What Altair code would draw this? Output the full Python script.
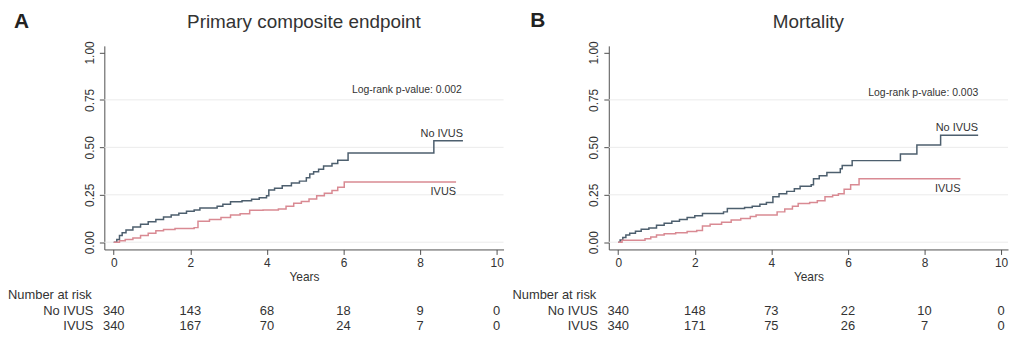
import altair as alt
import pandas as pd

FONT = "Liberation Sans"
TXT = "#333333"
AX = "#505050"
C_NO = "#4d5f6e"
C_IV = "#d98a93"

x_ticks = [0, 2, 4, 6, 8, 10]
y_ticks = [0.0, 0.25, 0.5, 0.75, 1.0]
grid_vals = [0.0, 0.25, 0.5, 0.75]
risk_times = [0, 2, 4, 6, 8, 10]
groups = ["No IVUS", "IVUS"]

titles = ["Primary composite endpoint", "Mortality"]
letters = ["A", "B"]
pvalues = ["Log-rank p-value: 0.002", "Log-rank p-value: 0.003"]

# Panel A - primary composite endpoint (cumulative incidence)
a_no_t = [0, 0.08, 0.15, 0.22, 0.32, 0.5, 0.7, 0.9, 1.1, 1.3, 1.5, 1.7, 1.9, 2.1, 2.25,
          2.7, 2.85, 3.05, 3.35, 3.6, 3.8, 3.99, 4.05, 4.2, 4.4, 4.64, 4.85, 5.03, 5.12,
          5.22, 5.35, 5.48, 5.7, 5.85, 6.12, 8.36, 9.12]
a_no_v = [0, 0.015, 0.035, 0.05, 0.065, 0.08, 0.095, 0.108, 0.12, 0.133, 0.143, 0.153,
          0.163, 0.17, 0.18, 0.19, 0.2, 0.213, 0.218, 0.226, 0.235, 0.245, 0.275, 0.285,
          0.297, 0.312, 0.322, 0.34, 0.36, 0.372, 0.385, 0.402, 0.415, 0.432, 0.47, 0.535,
          0.535]
a_iv_t = [0, 0.15, 0.3, 0.5, 0.7, 0.9, 1.1, 1.3, 1.6, 2.1, 2.2, 2.5, 2.8, 3.05, 3.3, 3.55,
          3.9, 4.3, 4.5, 4.7, 4.9, 5.1, 5.3, 5.5, 5.7, 5.85, 6.02, 8.94]
a_iv_v = [0, 0.008, 0.015, 0.022, 0.035, 0.048, 0.06, 0.067, 0.072, 0.077, 0.11, 0.12,
          0.13, 0.143, 0.15, 0.168, 0.17, 0.175, 0.19, 0.205, 0.215, 0.228, 0.245, 0.258,
          0.272, 0.29, 0.318, 0.318]

# Panel B - mortality
b_no_t = [0, 0.05, 0.12, 0.2, 0.3, 0.45, 0.6, 0.8, 1.0, 1.2, 1.4, 1.6, 1.8, 2.0, 2.2,
          2.75, 2.85, 3.3, 3.5, 3.7, 3.87, 4.04, 4.2, 4.4, 4.6, 4.75, 5.04, 5.1, 5.25,
          5.45, 5.8, 5.85, 6.11, 7.37, 7.8, 8.42, 9.4]
b_no_v = [0, 0.012, 0.025, 0.038, 0.048, 0.058, 0.068, 0.075, 0.09, 0.1, 0.11, 0.12,
          0.13, 0.14, 0.152, 0.16, 0.178, 0.183, 0.19, 0.2, 0.21, 0.24, 0.255, 0.268,
          0.282, 0.295, 0.303, 0.334, 0.35, 0.368, 0.387, 0.404, 0.43, 0.465, 0.512,
          0.564, 0.564]
b_iv_t = [0, 0.1, 0.7, 0.85, 1.0, 1.2, 1.5, 1.8, 2.05, 2.2, 2.4, 2.7, 2.95, 3.2, 3.45,
          3.6, 4.15, 4.35, 4.55, 4.7, 5.0, 5.2, 5.4, 5.6, 5.75, 5.9, 6.07, 6.29, 8.94]
b_iv_v = [0, 0.01, 0.018, 0.028, 0.038, 0.045, 0.05, 0.056, 0.062, 0.085, 0.095, 0.105,
          0.117, 0.125, 0.135, 0.143, 0.16, 0.175, 0.19, 0.204, 0.21, 0.218, 0.24, 0.248,
          0.256, 0.279, 0.303, 0.334, 0.334]

risk_a_no = [340, 143, 68, 18, 9, 0]
risk_a_iv = [340, 167, 70, 24, 7, 0]
risk_b_no = [340, 148, 73, 22, 10, 0]
risk_b_iv = [340, 171, 75, 26, 7, 0]

W, H = 402, 205

XS = alt.Scale(domain=[-0.246, 10.18], nice=False, zero=False)
YS = alt.Scale(domain=[-0.038, 1.0345], nice=False, zero=False)
XAX = alt.Axis(values=x_ticks, grid=False, tickSize=5, labelPadding=3, titlePadding=3,
               labelFontSize=12, titleFontSize=12, titleFontWeight="normal",
               domainColor=AX, tickColor=AX, labelColor=TXT, titleColor=TXT,
               labelFont=FONT, titleFont=FONT)
YAX = alt.Axis(values=y_ticks, format=".2f", grid=False, labelAngle=270,
               labelAlign="center", labelBaseline="bottom", tickSize=5, labelPadding=3,
               labelFontSize=12, domainColor=AX, tickColor=AX, labelColor=TXT,
               labelFont=FONT)


def X():
    return alt.X("t:Q", scale=XS, axis=XAX, title="Years")


def Y():
    return alt.Y("v:Q", scale=YS, axis=YAX, title="")


def txt(**kw):
    base = dict(color=TXT, font=FONT)
    base.update(kw)
    return base


def panel(letter, title, pval, no_t, no_v, iv_t, iv_v, risk_no, risk_iv,
          letter_dx, letter_y, pval_x, pval_y):
    curves = pd.DataFrame({
        "t": no_t + iv_t,
        "v": no_v + iv_v,
        "group": ["No IVUS"] * len(no_t) + ["IVUS"] * len(iv_t),
    })
    grid = alt.Chart(pd.DataFrame({"v": grid_vals})).mark_rule(
        color="#ebebeb", strokeWidth=1
    ).encode(y=Y(), x=alt.value(0), x2=alt.value(W))

    lines = alt.Chart(curves).mark_line(interpolate="step-after", strokeWidth=1.5).encode(
        x=X(), y=Y(),
        color=alt.Color("group:N", scale=alt.Scale(domain=groups, range=[C_NO, C_IV]),
                        legend=None),
    )

    lab_no = alt.Chart(pd.DataFrame({"t": [no_t[-1]], "v": [no_v[-1]], "label": ["No IVUS"]})
                       ).mark_text(**txt(align="right", baseline="bottom", dy=-2,
                                         fontSize=11)).encode(x=X(), y=Y(), text="label:N")
    lab_iv = alt.Chart(pd.DataFrame({"t": [iv_t[-1]], "v": [iv_v[-1]], "label": ["IVUS"]})
                       ).mark_text(**txt(align="right", baseline="top", dy=4,
                                         fontSize=11)).encode(x=X(), y=Y(), text="label:N")

    ttl = alt.Chart(pd.DataFrame({"label": [title]})).mark_text(
        **txt(fontSize=19, align="center", baseline="alphabetic")
    ).encode(x=alt.value(W / 2), y=alt.value(-18.5), text="label:N")
    let = alt.Chart(pd.DataFrame({"label": [letter]})).mark_text(
        **txt(fontSize=21, fontWeight="bold", align="left", baseline="alphabetic",
              color="#222222")
    ).encode(x=alt.value(letter_dx), y=alt.value(letter_y), text="label:N")
    pv = alt.Chart(pd.DataFrame({"label": [pval]})).mark_text(
        **txt(fontSize=10.5, align="right", baseline="middle")
    ).encode(x=alt.value(pval_x), y=alt.value(pval_y), text="label:N")

    nar = alt.Chart(pd.DataFrame({"label": ["Number at risk"]})).mark_text(
        **txt(fontSize=13, align="left", baseline="middle")
    ).encode(x=alt.value(-97), y=alt.value(251.3), text="label:N")
    row_no = alt.Chart(pd.DataFrame({"label": [groups[0]]})).mark_text(
        **txt(fontSize=13, align="right", baseline="middle")
    ).encode(x=alt.value(-11), y=alt.value(267.3), text="label:N")
    row_iv = alt.Chart(pd.DataFrame({"label": [groups[1]]})).mark_text(
        **txt(fontSize=13, align="right", baseline="middle")
    ).encode(x=alt.value(-11), y=alt.value(282.3), text="label:N")
    r_no = alt.Chart(pd.DataFrame({"t": risk_times, "n": risk_no})).mark_text(
        **txt(fontSize=13, align="center", baseline="middle")
    ).encode(x=X(), y=alt.value(267.3), text="n:Q")
    r_iv = alt.Chart(pd.DataFrame({"t": risk_times, "n": risk_iv})).mark_text(
        **txt(fontSize=13, align="center", baseline="middle")
    ).encode(x=X(), y=alt.value(282.3), text="n:Q")

    return alt.layer(grid, lines, lab_no, lab_iv, ttl, let, pv, nar, row_no, row_iv,
                     r_no, r_iv).properties(width=W, height=H)


pa = panel(letters[0], titles[0], pvalues[0], a_no_t, a_no_v, a_iv_t, a_iv_v,
           risk_a_no, risk_a_iv, -91, -17.7, 360, 44.3)
pb = panel(letters[1], titles[1], pvalues[1], b_no_t, b_no_v, b_iv_t, b_iv_v,
           risk_b_no, risk_b_iv, -79, -18.7, 372, 47.3)

chart = alt.hconcat(pa, pb, spacing=106, bounds="flush").properties(
    padding={"left": 0, "top": 1, "right": 0, "bottom": 0}
).configure(
    font=FONT, background="white", view=alt.ViewConfig(strokeWidth=0)
)

chart.save("out.html", embed_options={"renderer": "svg", "actions": False})
